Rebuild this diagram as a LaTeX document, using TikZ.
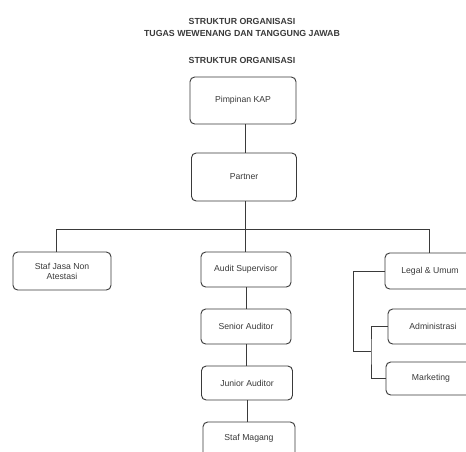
\documentclass[tikz,border=0pt]{standalone}
\usepackage{fontspec}
\setmainfont{Liberation Sans}
\definecolor{ink}{HTML}{3A3A3A}
\begin{document}
\begin{tikzpicture}[x=0.75pt,y=-0.75pt,
  orgbox/.style={draw=ink,line width=0.7pt,rounded corners=3.5pt,fill=white,
    text=ink,font=\fontsize{6.5}{7.6}\selectfont,inner sep=1pt,align=center},
  link/.style={draw=ink,line width=0.7pt},
  ttl/.style={text=ink,font=\fontsize{6.6}{7.6}\selectfont\bfseries,inner sep=0pt}]
\useasboundingbox (0,0) rectangle (466,451);
\clip (0,0) rectangle (466,451);
\node[ttl] (t1) at (242,21) {STRUKTUR ORGANISASI};
\node[ttl] (t2) at (242,33) {TUGAS WEWENANG DAN TANGGUNG JAWAB};
\node[ttl] (t3) at (242,60) {STRUKTUR ORGANISASI};
\node[orgbox,minimum width=79.5pt,minimum height=35.25pt] (pimp) at (243,100.5) {\raisebox{2pt}{Pimpinan KAP}};
\node[orgbox,minimum width=78.75pt,minimum height=36pt] (partner) at (244,177) {Partner};
\node[orgbox,minimum width=73.5pt,minimum height=28.5pt] (staf) at (62,271) {Staf Jasa Non\\Atestasi};
\node[orgbox,minimum width=67.5pt,minimum height=26.25pt] (audit) at (246,269.5) {Audit Supervisor};
\node[orgbox,minimum width=67.5pt,minimum height=26.25pt] (senior) at (246,326.5) {Senior Auditor};
\node[orgbox,minimum width=68.25pt,minimum height=25.5pt] (junior) at (247,383) {Junior Auditor};
\node[orgbox,minimum width=69pt,minimum height=27pt] (magang) at (249,440) {\raisebox{4pt}{Staf Magang}};
\node[orgbox,minimum width=67.5pt,minimum height=27pt] (legal) at (430,271) {Legal \& Umum};
\node[orgbox,minimum width=67.5pt,minimum height=26.25pt] (admin) at (433,326.5) {Administrasi};
\node[orgbox,minimum width=67.5pt,minimum height=24.75pt] (market) at (431,378.5) {Marketing};
\coordinate (busL) at (56,229);
\coordinate (busR) at (429,229);
\coordinate (busM) at (245,229);
\coordinate (lg) at (353,351);
\coordinate (jn) at (371,351);
\draw[link] (busM |- pimp.south) -- (busM |- partner.north);
\draw[link] (busM |- partner.south) -- (busM);
\draw[link] (busL) -- (busR);
\draw[link] (busL) -- (busL |- staf.north);
\draw[link] (busM) -- (busM |- audit.north);
\draw[link] (busR) -- (busR |- legal.north);
\draw[link] (audit.south) -- (audit.south |- senior.north);
\draw[link] (senior.south) -- (senior.south |- junior.north);
\draw[link] (junior.south) -- (junior.south |- magang.north);
\draw[link] (legal.west) -| (lg) -- (jn);
\draw[link] (admin.west) -| (jn) |- (market.west);
\end{tikzpicture}
\end{document}
